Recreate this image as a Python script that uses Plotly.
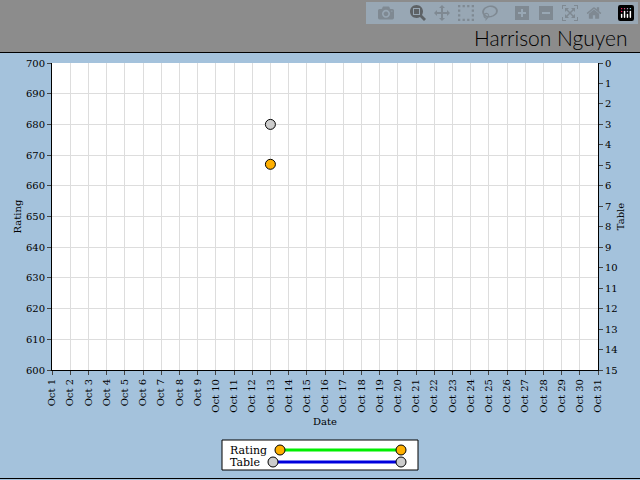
import plotly.graph_objects as go

dates = [f"Oct {d}" for d in range(1, 32)]
rating_dates = ["Oct 13"]
rating_values = [667]
table_dates = ["Oct 13"]
table_values = [3]

W, H = 640, 480
L, R, T, B = 52, 598, 63, 370
def px(x): return (x - L) / (R - L)
def py(y): return (B - y) / (B - T)

fig = go.Figure()
fig.add_trace(go.Scatter(x=rating_dates, y=rating_values, mode="lines+markers",
    line=dict(color="#00ee00", width=3),
    marker=dict(color="#ffb000", size=10, line=dict(color="black", width=1)),
    showlegend=False, cliponaxis=False))
fig.add_trace(go.Scatter(x=table_dates, y=table_values, yaxis="y2", mode="lines+markers",
    line=dict(color="#0000dd", width=3),
    marker=dict(color="#cccccc", size=10, line=dict(color="black", width=1)),
    showlegend=False, cliponaxis=False))

font = dict(family="DejaVu Serif", size=10, color="black")
shapes = [
    dict(type="rect", xref="paper", yref="paper", x0=px(0), x1=px(640), y0=py(52), y1=py(0),
         fillcolor="#8c8c8c", line=dict(width=0), layer="below"),
    dict(type="line", xref="paper", yref="paper", x0=px(0), x1=px(640), y0=py(52.5), y1=py(52.5),
         line=dict(color="black", width=1)),
    dict(type="line", xref="paper", yref="paper", x0=px(0), x1=px(640), y0=py(478.5), y1=py(478.5),
         line=dict(color="black", width=1)),
    dict(type="rect", xref="paper", yref="paper", x0=px(222), x1=px(418), y0=py(470), y1=py(440),
         fillcolor="white", line=dict(color="black", width=1)),
    dict(type="line", xref="paper", yref="paper", x0=px(280), x1=px(401), y0=py(450), y1=py(450),
         line=dict(color="#00ee00", width=3)),
    dict(type="line", xref="paper", yref="paper", x0=px(273), x1=px(401), y0=py(462), y1=py(462),
         line=dict(color="#0000dd", width=3)),
]
for (cx, cy, col) in [(280, 450, "#ffb000"), (401, 450, "#ffb000"), (273, 462, "#cccccc"), (401, 462, "#cccccc")]:
    shapes.append(dict(type="circle", xref="paper", yref="paper", x0=px(cx-5), x1=px(cx+5),
        y0=py(cy+5), y1=py(cy-5), fillcolor=col, line=dict(color="black", width=1)))

annotations = [
    dict(text="Harrison Nguyen", xref="paper", yref="paper", x=px(630), y=py(38), xanchor="right",
         yanchor="middle", showarrow=False,
         font=dict(family="Lato", size=21, color="black", weight=300)),
    dict(text="Rating", xref="paper", yref="paper", x=px(228), y=py(450), xanchor="left",
         yanchor="middle", showarrow=False, font=dict(family="DejaVu Serif", size=11, color="black")),
    dict(text="Table", xref="paper", yref="paper", x=px(228), y=py(462), xanchor="left",
         yanchor="middle", showarrow=False, font=dict(family="DejaVu Serif", size=11, color="black")),
]

fig.update_layout(
    width=W, height=H, margin=dict(l=L, r=W-R, t=T, b=H-B),
    paper_bgcolor="#a4c2dc", plot_bgcolor="white", font=font,
    shapes=shapes, annotations=annotations,
    xaxis=dict(type="category", categoryorder="array", categoryarray=dates, range=[0, 30],
        tickangle=-90, showgrid=True, gridcolor="#dddddd", showline=True, linecolor="black",
        ticks="outside", ticklen=4, title=dict(text="Date", font=font, standoff=6)),
    yaxis=dict(range=[600, 700], dtick=10, showgrid=True, gridcolor="#dddddd", showline=True,
        linecolor="black", ticks="outside", ticklen=4, zeroline=False,
        title=dict(text="Rating", font=font, standoff=2)),
    yaxis2=dict(range=[15, 0], dtick=1, overlaying="y", side="right", showgrid=False,
        showline=True, linecolor="black", ticks="outside", ticklen=4, zeroline=False,
        title=dict(text="Table", font=font, standoff=0)),
)
fig.write_html("out.html")
with open("out.html", encoding="utf-8") as f:
    html = f.read()
html = html.replace("<head>", "<head><style>html,body{margin:0;padding:0;}</style>", 1)
with open("out.html", "w", encoding="utf-8") as f:
    f.write(html)
